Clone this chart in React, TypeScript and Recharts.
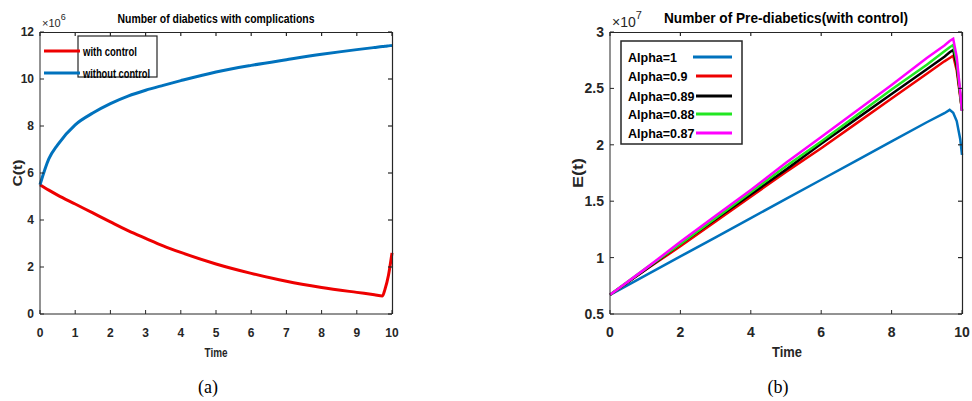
import React from 'react';
import { LineChart, Line, XAxis, YAxis } from 'recharts';

// (a) diabetics with complications, values in units of 1e6
const timeA = [0, 0.25, 0.5, 1, 1.5, 2, 2.5, 3, 3.5, 4, 5, 6, 7, 8, 9, 9.5, 9.73, 9.8, 9.9, 10];
const withControl = [5.5, 5.27, 5.06, 4.68, 4.3, 3.92, 3.55, 3.22, 2.9, 2.62, 2.13, 1.73, 1.39, 1.13, 0.92, 0.82, 0.77, 1.05, 1.65, 2.6];
const withoutControl = [5.5, 6.6, 7.2, 8.05, 8.55, 8.95, 9.27, 9.52, 9.73, 9.93, 10.3, 10.58, 10.82, 11.05, 11.25, 11.34, 11.38, 11.39, 11.41, 11.43];
const xTicksA = [0, 1, 2, 3, 4, 5, 6, 7, 8, 9, 10];
const yTicksA = [0, 2, 4, 6, 8, 10, 12];

// (b) pre-diabetics with control, values in units of 1e7
const timeB = [0, 1, 2, 3, 4, 5, 6, 7, 8, 9, 9.5, 9.65, 9.75, 9.85, 9.95, 10];
const alpha1 = [0.67, 0.84, 1.01, 1.18, 1.35, 1.52, 1.69, 1.86, 2.03, 2.2, 2.28, 2.31, 2.285, 2.21, 2.05, 1.91];
const alpha09 = [0.67, 0.89, 1.1, 1.32, 1.54, 1.76, 1.97, 2.19, 2.41, 2.63, 2.74, 2.77, 2.79, 2.66, 2.42, 2.31];
const alpha089 = [0.67, 0.89, 1.12, 1.34, 1.56, 1.78, 2.01, 2.23, 2.45, 2.67, 2.78, 2.82, 2.84, 2.7, 2.44, 2.3];
const alpha088 = [0.67, 0.9, 1.12, 1.35, 1.58, 1.81, 2.03, 2.26, 2.49, 2.71, 2.83, 2.865, 2.885, 2.74, 2.45, 2.3];
const alpha087 = [0.67, 0.9, 1.14, 1.37, 1.6, 1.84, 2.07, 2.3, 2.53, 2.77, 2.88, 2.92, 2.94, 2.78, 2.47, 2.3];
const xTicksB = [0, 2, 4, 6, 8, 10];
const yTicksB = [0.5, 1, 1.5, 2, 2.5, 3];

const seriesA = [
  { key: 'withCtrl', name: 'with control', color: '#ee0000' },
  { key: 'withoutCtrl', name: 'without control', color: '#0072BD' },
];
const seriesB = [
  { key: 'a1', name: 'Alpha=1', color: '#0072BD' },
  { key: 'a09', name: 'Alpha=0.9', color: '#ee0000' },
  { key: 'a089', name: 'Alpha=0.89', color: '#000000' },
  { key: 'a088', name: 'Alpha=0.88', color: '#22e622' },
  { key: 'a087', name: 'Alpha=0.87', color: '#ff00ff' },
];

const dataA = timeA.map((t, i) => ({ t, withCtrl: withControl[i], withoutCtrl: withoutControl[i] }));
const dataB = timeB.map((t, i) => ({
  t, a1: alpha1[i], a09: alpha09[i], a089: alpha089[i], a088: alpha088[i], a087: alpha087[i],
}));

const FONT = 'Liberation Sans, Arial, sans-serif';
const AX = '#262626';
const TL = 4;

// MATLAB style ticks: pointing inward, label outside
const makeTick = (side: string, fontSize: number) => (props: any) => {
  const { x, y, payload } = props;
  if (side === 'bottom') {
    return (
      <g>
        <line x1={x} x2={x} y1={y} y2={y - TL} stroke={AX} />
        <text x={x} y={y + 23} textAnchor="middle" fontSize={fontSize} fontWeight="bold" fill={AX} fontFamily={FONT}>{payload.value}</text>
      </g>
    );
  }
  return (
    <g>
      <line x1={x} x2={x + TL} y1={y} y2={y} stroke={AX} />
      <text x={x - 6} y={y + fontSize * 0.36} textAnchor="end" fontSize={fontSize} fontWeight="bold" fill={AX} fontFamily={FONT}>{payload.value}</text>
    </g>
  );
};

// top and right edges of the MATLAB box, with inward ticks
const Frame = ({ left, top, w, h, xTicks, yTicks, xMin, xMax, yMin, yMax }: any) => (
  <g stroke={AX} strokeWidth={1.2} fill="none">
    <line x1={left} x2={left + w + 0.5} y1={top + 0.5} y2={top + 0.5} />
    <line x1={left + w + 0.5} x2={left + w + 0.5} y1={top} y2={top + h} />
    {xTicks.map((v: number) => {
      const px = left + ((v - xMin) / (xMax - xMin)) * w;
      return <line key={'x' + v} x1={px} x2={px} y1={top} y2={top + TL} />;
    })}
    {yTicks.map((v: number) => {
      const py = top + h - ((v - yMin) / (yMax - yMin)) * h;
      return <line key={'y' + v} x1={left + w} x2={left + w - TL} y1={py} y2={py} />;
    })}
  </g>
);

const rowsB = [57, 76, 96, 114, 133];

export default function App() {
  return (
    <div style={{ position: 'absolute', left: 0, top: 0, width: 972, height: 401, background: '#fff' }}>
      <div style={{ position: 'absolute', left: 0, top: 0 }}>
        <LineChart width={420} height={401} data={dataA} margin={{ top: 32, right: 28, bottom: 57, left: 10 }}>
          <XAxis dataKey="t" type="number" domain={[0, 10]} ticks={xTicksA} stroke={AX} tickSize={0} tickMargin={0}
            tick={makeTick('bottom', 12)} height={30} interval={0} />
          <YAxis type="number" domain={[0, 12]} ticks={yTicksA} stroke={AX} tickSize={0} tickMargin={0}
            tick={makeTick('left', 12)} width={30} interval={0} />
          {seriesA.map((s) => (
            <Line key={s.key} name={s.name} dataKey={s.key} type="monotone" stroke={s.color} strokeWidth={3} dot={false} isAnimationActive={false} />
          ))}
        </LineChart>
      </div>
      <div style={{ position: 'absolute', left: 540, top: 0 }}>
        <LineChart width={432} height={401} data={dataB} margin={{ top: 32, right: 10, bottom: 57, left: 30 }}>
          <XAxis dataKey="t" type="number" domain={[0, 10]} ticks={xTicksB} stroke={AX} tickSize={0} tickMargin={0}
            tick={makeTick('bottom', 14)} height={30} interval={0} />
          <YAxis type="number" domain={[0.5, 3]} ticks={yTicksB} stroke={AX} tickSize={0} tickMargin={0}
            tick={makeTick('left', 14)} width={40} interval={0} />
          {seriesB.map((s) => (
            <Line key={s.key} name={s.name} dataKey={s.key} stroke={s.color} strokeWidth={2.5} dot={false} isAnimationActive={false} />
          ))}
        </LineChart>
      </div>
      <svg width={972} height={401} style={{ position: 'absolute', left: 0, top: 0, pointerEvents: 'none' }} fontFamily={FONT}>
        <Frame left={40} top={32} w={352} h={282} xTicks={xTicksA} yTicks={yTicksA} xMin={0} xMax={10} yMin={0} yMax={12} />
        <Frame left={610} top={32} w={352} h={282} xTicks={xTicksB} yTicks={yTicksB} xMin={0} xMax={10} yMin={0.5} yMax={3} />
        {/* legend (a) */}
        <rect x={78} y={36} width={79} height={41} fill="#fff" stroke={AX} strokeWidth={1.2} />
        {seriesA.map((s, i) => (
          <g key={s.key}>
            <line x1={44} x2={80} y1={51 + i * 22} y2={51 + i * 22} stroke={s.color} strokeWidth={3} />
            <text x={83} y={56 + i * 22} fontSize={12.5} fontWeight="bold" textLength={i === 0 ? 54 : 67} lengthAdjust="spacingAndGlyphs">{s.name}</text>
          </g>
        ))}
        {/* legend (b) */}
        <rect x={621} y={41} width={121} height={103} fill="#fff" stroke={AX} strokeWidth={1.5} />
        {seriesB.map((s, i) => (
          <g key={s.key}>
            <text x={628} y={rowsB[i] + 4.5} fontSize={12.5} fontWeight="bold">{s.name}</text>
            <line x1={i === 0 ? 693 : 696} x2={732} y1={rowsB[i]} y2={rowsB[i]} stroke={s.color} strokeWidth={3} />
          </g>
        ))}
        <text x={216} y={23} textAnchor="middle" fontSize={13} fontWeight="bold" textLength={197} lengthAdjust="spacingAndGlyphs">Number of diabetics with complications</text>
        <text x={786} y={23} textAnchor="middle" fontSize={15} fontWeight="bold" textLength={244} lengthAdjust="spacingAndGlyphs">Number of Pre-diabetics(with control)</text>
        <text x={42} y={27} fontSize={11} fill={AX}>×10<tspan dy={-7} fontSize={9}>6</tspan></text>
        <text x={612} y={27} fontSize={14} fill={AX}>×10<tspan dy={-8} fontSize={11}>7</tspan></text>
        <text x={0} y={0} transform="translate(22,173) rotate(-90)" textAnchor="middle" fontSize={13} fontWeight="bold" fill={AX} textLength={27} lengthAdjust="spacingAndGlyphs">C(t)</text>
        <text x={0} y={0} transform="translate(583,173) rotate(-90)" textAnchor="middle" fontSize={15} fontWeight="bold" fill={AX} textLength={30} lengthAdjust="spacingAndGlyphs">E(t)</text>
        <text x={216} y={357} textAnchor="middle" fontSize={13} fontWeight="bold" fill={AX} textLength={23} lengthAdjust="spacingAndGlyphs">Time</text>
        <text x={787} y={357} textAnchor="middle" fontSize={15} fontWeight="bold" fill={AX} textLength={30} lengthAdjust="spacingAndGlyphs">Time</text>
        <text x={208} y={393} textAnchor="middle" fontSize={18} fontFamily="Liberation Serif, Times New Roman, serif">(a)</text>
        <text x={778} y={393} textAnchor="middle" fontSize={18} fontFamily="Liberation Serif, Times New Roman, serif">(b)</text>
      </svg>
    </div>
  );
}
